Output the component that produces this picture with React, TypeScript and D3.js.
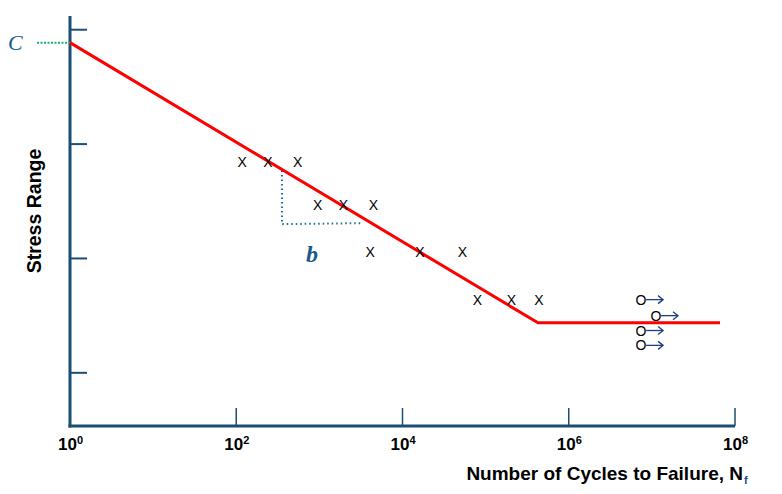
import React from "react";
import * as d3 from "d3";

// Data (log10 of cycles, stress range in arbitrary units)
const xTickExps = [0, 2, 4, 6, 8];
const yTickValues = [1, 2, 3, 4];
const curveLogN = [0, 5.63, 7.82];
const curveStress = [3.887, 1.437, 1.437];
const failLogN = [2.07, 2.38, 2.74, 2.98, 3.29, 3.65, 3.61, 4.21, 4.72, 4.9, 5.31, 5.64];
const failStress = [2.84, 2.84, 2.84, 2.47, 2.47, 2.47, 2.06, 2.06, 2.06, 1.64, 1.64, 1.64];
const runoutLogN = [6.87, 7.05, 6.87, 6.87];
const runoutStress = [1.64, 1.5, 1.37, 1.24];
const slopeTri = { x0: 2.55, x1: 3.52, yTop: 2.77, yBot: 2.3 };

const W = 782;
const H = 494;

export default function App() {
  const x = d3.scaleLinear().domain([0, 8]).range([70, 735]);
  const y = d3.scaleLinear().domain([0.535, 4.12]).range([426, 16]);
  const blue = "#1a4f72";
  const line = d3
    .line<number>()
    .x((_, i) => x(curveLogN[i]))
    .y((d) => y(d));

  return (
    <svg
      width={W}
      height={H}
      style={{ position: "absolute", left: 0, top: 0, background: "#fff" }}
      fontFamily="Liberation Sans, Arial, sans-serif"
    >
      {/* y axis */}
      <line x1={70} x2={70} y1={y.range()[1]} y2={y.range()[0] + 1.5} stroke={blue} strokeWidth={3} />
      {yTickValues.map((v) => (
        <line key={v} x1={70} x2={87} y1={y(v)} y2={y(v)} stroke={blue} strokeWidth={2} />
      ))}
      {/* x axis */}
      <line x1={68.5} x2={x(8)} y1={426} y2={426} stroke={blue} strokeWidth={3} />
      {xTickExps.map((e) =>
        e === 0 ? null : (
          <line key={e} x1={x(e)} x2={x(e)} y1={426} y2={408} stroke={blue} strokeWidth={1.5} />
        )
      )}
      {xTickExps.map((e) => (
        <text key={"l" + e} x={x(e) - 12} y={450} fontSize={17} fontWeight="bold" fill="#000">
          10
          <tspan fontSize={11} dy={-6}>
            {e}
          </tspan>
        </text>
      ))}
      {/* axis titles */}
      <text
        transform={`translate(41,211) rotate(-90)`}
        textAnchor="middle"
        fontSize={19.5}
        fontWeight="bold"
        fill="#000"
      >
        Stress Range
      </text>
      <text x={743} y={480} textAnchor="end" fontSize={19} fontWeight="bold" fill="#000">
        Number of Cycles to Failure, N
      </text>
      <text x={744} y={484} fontSize={11} fontWeight="bold" fill="#1a4f9a">
        f
      </text>

      {/* C intercept */}
      <line
        x1={37}
        x2={70}
        y1={y(curveStress[0])}
        y2={y(curveStress[0])}
        stroke="#19b36b"
        strokeWidth={2}
        strokeDasharray="2,1.5"
      />
      <text
        x={8}
        y={y(curveStress[0]) + 7}
        fontFamily="Liberation Serif, Times New Roman, serif"
        fontStyle="italic"
        fontSize={22}
        fill="#1a5a8a"
      >
        C
      </text>

      {/* slope triangle */}
      <path
        d={`M${x(slopeTri.x0)},${y(slopeTri.yTop)} L${x(slopeTri.x0)},${y(slopeTri.yBot)} L${x(slopeTri.x1)},${y(slopeTri.yBot) - 1}`}
        fill="none"
        stroke="#1f6b94"
        strokeWidth={2}
        strokeDasharray="1.5,3"
      />
      <text
        x={306}
        y={262}
        fontFamily="Liberation Serif, Times New Roman, serif"
        fontStyle="italic"
        fontWeight="bold"
        fontSize={24}
        fill="#1a5a8a"
      >
        b
      </text>

      {/* S-N curve */}
      <path d={line(curveStress) ?? ""} fill="none" stroke="#ff0000" strokeWidth={3} />

      {/* failure points */}
      {failLogN.map((v, i) => (
        <text
          key={"f" + i}
          x={x(v)}
          y={y(failStress[i]) + 5}
          textAnchor="middle"
          fontSize={14}
          fill="#000"
        >
          X
        </text>
      ))}

      {/* run-outs */}
      {runoutLogN.map((v, i) => (
        <g key={"r" + i}>
          <text x={x(v)} y={y(runoutStress[i]) + 5} textAnchor="middle" fontSize={14} fill="#000">
            O
          </text>
          <line
            x1={x(v) + 5}
            x2={x(v) + 22}
            y1={y(runoutStress[i])}
            y2={y(runoutStress[i])}
            stroke="#1a3f80"
            strokeWidth={1.3}
          />
          <path
            d={`M${x(v) + 17},${y(runoutStress[i]) - 4} L${x(v) + 22},${y(runoutStress[i])} L${x(v) + 17},${y(runoutStress[i]) + 4}`}
            fill="none"
            stroke="#1a3f80"
            strokeWidth={1.3}
          />
        </g>
      ))}
    </svg>
  );
}
